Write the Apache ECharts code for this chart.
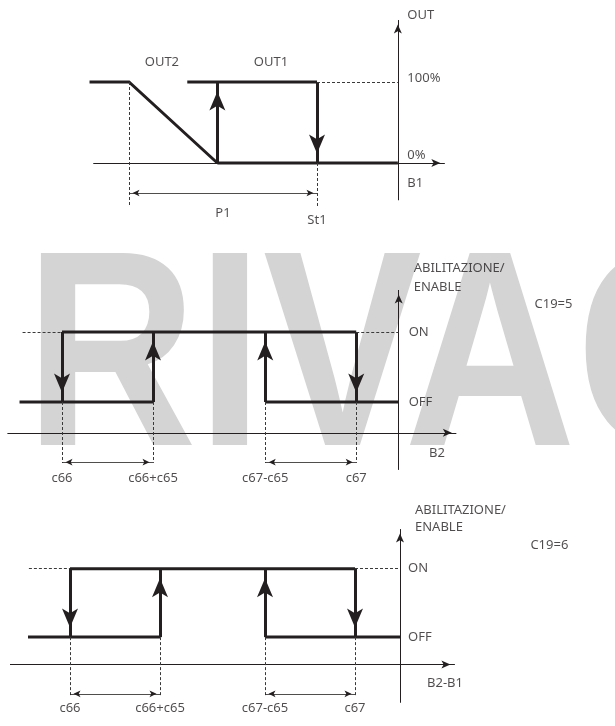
<!DOCTYPE html>
<html><head><meta charset="utf-8">
<script src="https://cdn.jsdelivr.net/npm/echarts@6/dist/echarts.min.js"></script>
<style>html,body{margin:0;padding:0;background:#fff}#c{width:615px;height:726px}</style>
</head><body><div id="c"></div>
<script>
// ================= DATA =================
// Top diagram: output (%) versus probe B1
const topLevels = [0, 100];                 // 0%, 100%
const topLevelLabels = ['0%', '100%'];
const topAxisNames = ['OUT', 'B1'];
const topSeriesNames = ['OUT2', 'OUT1'];
const out2X = [-2.1, 0, 4.7];               // OUT2: flat, start of P1 ramp, end of ramp
const out2Y = [100, 100, 0];
const out1OnX = [3.1, 10];                  // OUT1 at 100%
const out1OffX = [4.7, 14.3];               // OUT1 at 0%
const out1RiseX = 4.7;                      // OUT1 switching on
const st1 = 10;                             // St1 set point
const p1Band = [0, 10];                     // proportional band P1
const topMarkLabels = ['P1', 'St1'];

// Enable diagrams (C19=5 / C19=6)
const enLevels = [0, 1];                    // OFF, ON
const enLevelLabels = ['OFF', 'ON'];
const c66 = [10, 10];
const c65 = [3, 3];
const c67 = [19.7, 19.5];
const thresholdLabels = ['c66', 'c66+c65', 'c67-c65', 'c67'];
const enTitles = ['C19=5', 'C19=6'];
const enAxisNames = ['B2', 'B2-B1'];
const enYAxisName = ['ABILITAZIONE/', 'ENABLE'];

// ================= LAYOUT =================
const INK = '#231f20';
const FONT = 'Noto Sans';
const grids = [
  {left: 35, top: 17.2, width: 413.6, height: 210.6},
  {left: 1.33, top: 269, width: 546, height: 224},
  {left: 10, top: 507.2, width: 540, height: 230.4}
];
const xRanges = [[-5, 17], [8, 26], [8, 26]];
const yRanges = [[-80, 180], [-1.3, 1.9], [-1.3, 1.9]];

// top decorations (in data units)
const topAxisX = out1OffX[1];
const topXAxisSpan = [-1.9, 16.8];
const topYAxisSpan = [-46, 176.5];
const topDashBottom = -54.3;
const topDimY = -37;
// enable decorations per panel
const enStart = [8.6, 8.6];
const enDashStart = [8.7, 8.63];
const enAxisX = [21.1, 21.0];
const enXAxisSpan = [[8.2, 23.0], [8.0, 22.83]];
const enYAxisSpan = [[-0.97, 1.6], [-0.96, 1.58]];
const enXAxisY = [-0.44, -0.40];
const enDimY = [-0.86, -0.83];
const enDashBottom = [-0.87, -0.875];
const enLabelY = [-1.09, -1.04];

// ================= BUILDERS =================
function pathSeries(gi, pts) {
  return {type: 'line', xAxisIndex: gi, yAxisIndex: gi, data: pts, symbol: 'none', silent: true, z: 4,
    lineStyle: {color: INK, width: 3, cap: 'butt', join: 'miter'}, emphasis: {disabled: true}};
}
function segSeries(gi, list, opt) {
  const ends = opt.ends || [{symbol: 'none'}, {symbol: 'none'}];
  return {type: 'line', xAxisIndex: gi, yAxisIndex: gi, data: [], silent: true, z: opt.z || 3,
    itemStyle: {color: INK},
    markLine: {silent: true, animation: false,
      symbol: 'none', symbolSize: 8,
      symbolOffset: [ends[0].offset || [0, 0], ends[1].offset || [0, 0]],
      label: {show: false}, emphasis: {disabled: true},
      lineStyle: opt.lineStyle,
      data: list.map(s => [
        Object.assign({coord: s[0], symbol: ends[0].symbol}, ends[0].size ? {symbolSize: ends[0].size} : {}),
        Object.assign({coord: s[1], symbol: ends[1].symbol}, ends[1].size ? {symbolSize: ends[1].size} : {})
      ])}};
}
const thickArrow = {ends: [{symbol: 'none'}, {symbol: 'arrow', size: [12, 19], offset: [0, '50%']}],
  lineStyle: {color: INK, width: 3, type: 'solid', cap: 'butt'}, z: 4};
const axisArrow = {ends: [{symbol: 'none'}, {symbol: 'arrow', size: [6, 9], offset: [0, '50%']}],
  lineStyle: {color: INK, width: 1, type: 'solid'}};
const dimArrow = {ends: [{symbol: 'arrow', size: [5, 7], offset: [0, '50%']}, {symbol: 'arrow', size: [5, 7], offset: [0, '50%']}],
  lineStyle: {color: INK, width: 0.8, type: 'solid'}};
const dashed = {lineStyle: {color: '#3a3a3a', width: 1, type: [3, 2]}};

function labelSeries(gi, items) {
  return {type: 'scatter', xAxisIndex: gi, yAxisIndex: gi, symbolSize: 1, silent: true, clip: false, z: 5,
    itemStyle: {color: 'rgba(0,0,0,0)'},
    data: items.map(it => ({value: [it[0], it[1]],
      label: {show: true, formatter: it[2], position: it[3] || 'inside', distance: it[4] || 0,
        color: INK, fontFamily: FONT, fontSize: 13}}))};
}

const series = [];
// ---- top diagram ----
series.push(pathSeries(0, out2X.map((x, i) => [x, out2Y[i]])));
series.push(pathSeries(0, out1OnX.map(x => [x, topLevels[1]])));
series.push(pathSeries(0, out1OffX.map(x => [x, topLevels[0]])));
series.push(segSeries(0, [
  [[out1RiseX, topLevels[0]], [out1RiseX, topLevels[1]]],
  [[st1, topLevels[1]], [st1, topLevels[0]]]
], thickArrow));
series.push(segSeries(0, [
  [[topXAxisSpan[0], topLevels[0]], [topXAxisSpan[1], topLevels[0]]],
  [[topAxisX, topYAxisSpan[0]], [topAxisX, topYAxisSpan[1]]]
], axisArrow));
series.push(segSeries(0, [
  [[st1, topLevels[1]], [topAxisX, topLevels[1]]],
  [[p1Band[0], topLevels[1]], [p1Band[0], topDashBottom]],
  [[p1Band[1], topLevels[0]], [p1Band[1], topDashBottom]]
], dashed));
series.push(segSeries(0, [[[p1Band[0], topDimY], [p1Band[1], topDimY]]], dimArrow));
series.push(labelSeries(0, [
  [topAxisX, 182.7, topAxisNames[0], 'right', 9],
  [topAxisX, 105, topLevelLabels[1], 'right', 9],
  [topAxisX, 9.9, topLevelLabels[0], 'right', 9],
  [topAxisX, -24.7, topAxisNames[1], 'right', 9],
  [1.75, 124.7, topSeriesNames[0]],
  [7.55, 124.7, topSeriesNames[1]],
  [(p1Band[0] + p1Band[1]) / 2, -61.7, topMarkLabels[0]],
  [st1, -70.4, topMarkLabels[1]]
]));

// ---- enable diagrams ----
[0, 1].forEach(k => {
  const gi = k + 1;
  const t = [c66[k], c66[k] + c65[k], c67[k] - c65[k], c67[k]];
  const OFF = enLevels[0], ON = enLevels[1];
  const ax = enAxisX[k];
  series.push(pathSeries(gi, [[enStart[k], OFF], [t[1], OFF]]));
  series.push(pathSeries(gi, [[t[0], ON], [t[3], ON]]));
  series.push(pathSeries(gi, [[t[2], OFF], [ax, OFF]]));
  series.push(segSeries(gi, [
    [[t[0], ON], [t[0], OFF]],
    [[t[1], OFF], [t[1], ON]],
    [[t[2], OFF], [t[2], ON]],
    [[t[3], ON], [t[3], OFF]]
  ], thickArrow));
  series.push(segSeries(gi, [
    [[enXAxisSpan[k][0], enXAxisY[k]], [enXAxisSpan[k][1], enXAxisY[k]]],
    [[ax, enYAxisSpan[k][0]], [ax, enYAxisSpan[k][1]]]
  ], axisArrow));
  series.push(segSeries(gi, [
    [[enDashStart[k], ON], [t[0], ON]],
    [[t[3], ON], [ax, ON]]
  ].concat(t.map(x => [[x, OFF], [x, enDashBottom[k]]])), dashed));
  series.push(segSeries(gi, [
    [[t[0], enDimY[k]], [t[1], enDimY[k]]],
    [[t[2], enDimY[k]], [t[3], enDimY[k]]]
  ], dimArrow));
  const lab = t.map((x, i) => [x, enLabelY[k], thresholdLabels[i]]);
  lab.push([ax, ON, enLevelLabels[1], 'right', k === 0 ? 9.5 : 7.5]);
  lab.push([ax, OFF, enLevelLabels[0], 'right', k === 0 ? 9.5 : 7.5]);
  lab.push([ax, k === 0 ? 1.91 : 1.86, enYAxisName[0], 'right', 14.5]);
  lab.push([ax, k === 0 ? 1.64 : 1.61, enYAxisName[1], 'right', 14.5]);
  lab.push([k === 0 ? 25.56 : 25.33, k === 0 ? 1.39 : 1.35, enTitles[k], 'right', 0]);
  lab.push([k === 0 ? 22.36 : 22.5, k === 0 ? -0.73 : -0.68, enAxisNames[k]]);
  series.push(labelSeries(gi, lab));
});

const chart = echarts.init(document.getElementById('c'), null, {renderer: 'canvas'});
chart.setOption({
  animation: false,
  backgroundColor: '#ffffff',
  grid: grids,
  xAxis: grids.map((g, i) => ({type: 'value', gridIndex: i, min: xRanges[i][0], max: xRanges[i][1], show: false})),
  yAxis: grids.map((g, i) => ({type: 'value', gridIndex: i, min: yRanges[i][0], max: yRanges[i][1], show: false})),
  graphic: [{
    type: 'text', x: 25, y: 368, scaleX: 0.853, z: 0, silent: true,
    style: {text: 'RIVACOLD', fill: '#d4d4d4', fontFamily: 'Liberation Sans', fontWeight: 'bold', fontSize: 279,
      align: 'left', verticalAlign: 'middle'}
  }],
  series: series
});
</script></body></html>
